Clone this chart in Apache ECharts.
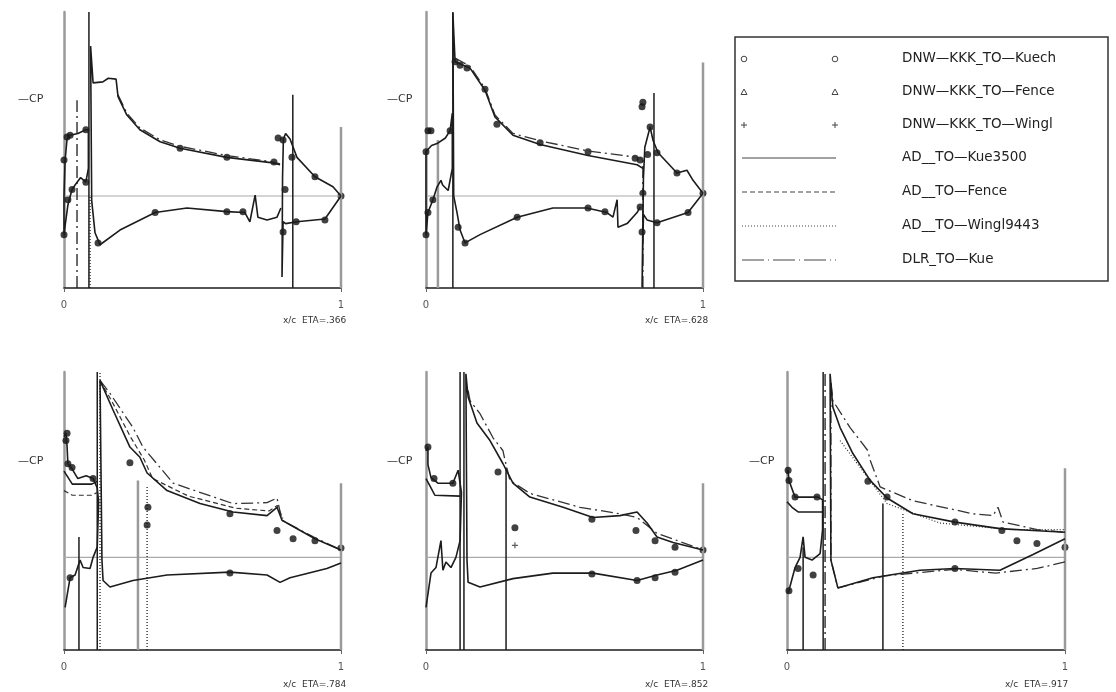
<!DOCTYPE html>
<html>
<head>
<meta charset="utf-8">
<script src="https://cdn.jsdelivr.net/npm/echarts@6/dist/echarts.min.js"></script>
<style>
  html, body { margin: 0; padding: 0; background: #fff; }
  #main { width: 1116px; height: 692px; }
</style>
</head>
<body>
<div id="main"></div>
<script>
// x/c, -Cp pairs
var etaLabels = ['x/c  ETA=.366', 'x/c  ETA=.628', 'x/c  ETA=.784', 'x/c  ETA=.852', 'x/c  ETA=.917'];
var legendNames = ['DNW\u2014KKK_TO\u2014Kuech', 'DNW\u2014KKK_TO\u2014Fence', 'DNW\u2014KKK_TO\u2014Wingl',
    'AD__TO\u2014Kue3500', 'AD__TO\u2014Fence', 'AD__TO\u2014Wingl9443', 'DLR_TO\u2014Kue'];

/* ETA=.366 */
var slat366 = [[0,-0.42],[0,0],[0.004,0.39],[0.011,0.62],[0.022,0.66],[0.05,0.68],[0.079,0.72],[0.088,0.72],[0.088,0.3],
    [0.079,0.15],[0.06,0.2],[0.04,0.12],[0.029,0.07],[0.02,-0.03],[0.014,-0.1],[0.005,-0.3],[0,-0.42]];
var main366 = [[0.783,-0.13],[0.769,-0.23],[0.733,-0.26],[0.70,-0.23],[0.69,0.01],[0.671,-0.28],[0.653,-0.18],[0.588,-0.17],
    [0.444,-0.13],[0.329,-0.18],[0.202,-0.37],[0.13,-0.53],[0.112,-0.40],[0.1,-0.05],[0.096,1.63],[0.105,1.23],[0.14,1.24],
    [0.16,1.28],[0.188,1.27],[0.195,1.08],[0.227,0.88],[0.274,0.72],[0.347,0.59],[0.419,0.52],[0.588,0.42],[0.755,0.36],[0.78,0.34]];
var flap366 = [[1,0],[0.942,-0.25],[0.841,-0.28],[0.80,-0.30],[0.791,-0.28],[0.787,-0.88],[0.789,0.2],[0.792,0.62],[0.80,0.68],
    [0.816,0.62],[0.841,0.42],[0.906,0.21],[0.971,0.10],[1,0]];
var dlr366 = [[0.195,1.1],[0.227,0.9],[0.274,0.74],[0.347,0.61],[0.419,0.54],[0.588,0.44],[0.755,0.37],[0.78,0.35]];
var exp366 = [[0.011,0.64],[0.022,0.66],[0,0.39],[0.079,0.72],[0.079,0.15],[0.029,0.07],[0.014,-0.04],[0,-0.42],
    [0.419,0.52],[0.588,0.42],[0.758,0.37],[0.773,0.63],[0.791,0.61],[0.798,0.07],[0.791,-0.39],[0.823,0.42],[0.906,0.21],
    [1,0],[0.123,-0.51],[0.329,-0.18],[0.588,-0.17],[0.646,-0.17],[0.838,-0.28],[0.942,-0.26]];
var vSolid366 = [[0.09,2],[0.826,1.10]];
var vGray366 = [[1,0.75]];
var vDashDot366 = [[0.047,1.04]];
var vDot366 = [[0.094,0]];

/* ETA=.628 */
var slat628 = [[0,-0.42],[0,0.1],[0,0.48],[0.02,0.55],[0.04,0.57],[0.07,0.63],[0.087,0.71],[0.095,0.9],[0.095,0.3],[0.08,0.06],
    [0.06,0.12],[0.054,0.17],[0.04,0.1],[0.025,-0.04],[0.007,-0.18],[0,-0.42]];
var main628 = [[0.773,-0.12],[0.762,-0.18],[0.726,-0.30],[0.693,-0.34],[0.69,-0.04],[0.675,-0.23],[0.653,-0.18],[0.581,-0.13],
    [0.458,-0.13],[0.329,-0.23],[0.195,-0.42],[0.141,-0.51],[0.123,-0.37],[0.112,-0.18],[0.1,0],[0.097,1.99],[0.105,1.46],
    [0.159,1.39],[0.213,1.15],[0.249,0.86],[0.314,0.66],[0.412,0.56],[0.585,0.44],[0.762,0.34],[0.783,0.30]];
var flap628 = [[1,0.03],[0.946,-0.18],[0.834,-0.29],[0.798,-0.26],[0.785,-0.2],[0.78,-0.99],[0.785,0.2],[0.79,0.53],[0.809,0.75],
    [0.82,0.6],[0.838,0.47],[0.906,0.25],[0.942,0.28],[0.964,0.17],[1,0.03]];
var dlr628 = [[0.105,1.5],[0.159,1.41],[0.213,1.17],[0.249,0.88],[0.314,0.68],[0.412,0.6],[0.585,0.49],[0.762,0.42],[0.783,0.4]];
var exp628 = [[0.018,0.71],[0.007,0.71],[0,0.48],[0.087,0.71],[0.025,-0.04],[0.007,-0.18],[0,-0.42],[0.105,1.46],[0.123,1.42],
    [0.148,1.39],[0.213,1.16],[0.256,0.78],[0.412,0.58],[0.585,0.48],[0.755,0.41],[0.773,0.39],[0.80,0.45],[0.809,0.75],
    [0.78,0.97],[0.783,1.02],[0.834,0.47],[0.906,0.25],[1,0.03],[0.116,-0.34],[0.141,-0.51],[0.329,-0.23],[0.585,-0.13],
    [0.646,-0.17],[0.773,-0.12],[0.783,0.03],[0.78,-0.39],[0.834,-0.29],[0.946,-0.18]];
var vSolid628 = [[0.097,2],[0.823,1.12]];
var vGray628 = [[0.043,0.61],[1,1.45]];
var vDashDot628 = [[0.783,0.4]];
var vDot628 = [];

/* ETA=.784 */
var slat784 = [[0.004,-0.54],[0.022,-0.22],[0.04,-0.19],[0.058,-0.03],[0.069,-0.11],[0.094,-0.12],[0.105,0],[0.12,0.11],
    [0.125,0.6],[0.12,0.75],[0.105,0.85],[0.08,0.88],[0.05,0.85],[0.03,0.95],[0.014,1.01],[0.011,1.2],[0.007,1.34],[0,1.3]];
var slatB784 = [[0,0.93],[0.03,0.79],[0.1,0.79],[0.12,0.82]];
var slatC784 = [[0,0.72],[0.03,0.67],[0.1,0.67],[0.12,0.7]];
var main784 = [[1,-0.06],[0.949,-0.12],[0.816,-0.22],[0.78,-0.27],[0.733,-0.19],[0.599,-0.16],[0.372,-0.19],[0.249,-0.25],
    [0.166,-0.32],[0.141,-0.25],[0.137,-0.03],[0.13,1.91],[0.177,1.59],[0.238,1.19],[0.274,1.08],[0.30,0.91],[0.372,0.72],
    [0.491,0.58],[0.61,0.49],[0.733,0.45],[0.769,0.54],[0.787,0.40],[0.906,0.2],[1,0.08]];
var dlr784 = [[0.13,1.91],[0.166,1.77],[0.249,1.40],[0.285,1.19],[0.394,0.80],[0.61,0.58],[0.733,0.59],[0.769,0.64],[0.787,0.40],
    [0.9,0.22],[1,0.08]];
var fence784 = [[0.13,1.9],[0.17,1.7],[0.24,1.3],[0.29,1.05],[0.32,0.85],[0.45,0.66],[0.62,0.53],[0.74,0.5],[0.77,0.56],[0.79,0.42]];
var exp784 = [[0.011,1.34],[0.007,1.26],[0.014,1.01],[0.029,0.97],[0.105,0.85],[0.238,1.02],[0.303,0.54],[0.30,0.35],
    [0.599,0.47],[0.769,0.29],[0.827,0.20],[0.906,0.18],[1,0.10],[0.022,-0.22],[0.599,-0.17]];
var vSolid784 = [[0.054,0.22],[0.12,2]];
var vGray784 = [[0.267,0.83],[1,0.8]];
var vDashDot784 = [];
var vDot784 = [[0.13,2],[0.30,0.76]];

/* ETA=.852 */
var slat852 = [[0,-0.54],[0.018,-0.17],[0.036,-0.11],[0.054,0.18],[0.061,-0.14],[0.072,-0.05],[0.09,-0.11],[0.108,0],
    [0.123,0.18],[0.128,0.7],[0.116,0.94],[0.097,0.80],[0.043,0.80],[0.018,0.86],[0.007,1.0],[0.007,1.19],[0,1.15]];
var slatB852 = [[0,0.85],[0.018,0.75],[0.032,0.67],[0.123,0.66]];
var main852 = [[1,-0.03],[0.906,-0.14],[0.834,-0.19],[0.762,-0.25],[0.603,-0.17],[0.458,-0.17],[0.314,-0.23],[0.195,-0.32],
    [0.152,-0.27],[0.148,-0.03],[0.144,1.98],[0.152,1.73],[0.184,1.45],[0.231,1.26],[0.278,1.01],[0.314,0.80],[0.375,0.65],
    [0.495,0.54],[0.603,0.43],[0.70,0.45],[0.762,0.49],[0.798,0.37],[0.834,0.22],[0.892,0.16],[1,0.08]];
var dlr852 = [[0.152,1.8],[0.159,1.69],[0.195,1.55],[0.242,1.29],[0.278,1.15],[0.285,1.05],[0.303,0.83],[0.375,0.69],
    [0.556,0.54],[0.70,0.47],[0.762,0.43],[0.834,0.26],[1,0.08]];
var exp852 = [[0.007,1.19],[0.029,0.85],[0.097,0.80],[0.26,0.92],[0.321,0.32],[0.599,0.41],[0.758,0.29],[0.827,0.18],
    [0.899,0.11],[1,0.08],[0.599,-0.18],[0.762,-0.25],[0.827,-0.22],[0.899,-0.16]];
var plus852 = [[0.321,0.13]];
var vSolid852 = [[0.123,2],[0.137,2],[0.289,0.97]];
var vGray852 = [[1,0.8]];
var vDashDot852 = [];
var vDot852 = [];

/* ETA=.917 */
var slat917 = [[0.004,-0.39],[0.029,-0.11],[0.047,0],[0.058,0.22],[0.065,0],[0.09,-0.03],[0.119,0.04],[0.128,0.3],[0.128,0.62],
    [0.112,0.65],[0.029,0.65],[0.007,0.83],[0.004,0.94],[0,0.9]];
var slatB917 = [[0,0.6],[0.018,0.54],[0.04,0.49],[0.126,0.49]];
var main917 = [[1,0.2],[0.885,0.03],[0.766,-0.14],[0.604,-0.12],[0.478,-0.14],[0.309,-0.22],[0.183,-0.33],[0.158,-0.03],
    [0.155,1.98],[0.165,1.62],[0.191,1.40],[0.237,1.12],[0.299,0.83],[0.36,0.64],[0.453,0.47],[0.604,0.38],[0.766,0.31],
    [0.885,0.29],[1,0.27]];
var dlr917 = [[1,-0.05],[0.9,-0.12],[0.75,-0.17],[0.6,-0.13],[0.35,-0.2],[0.183,-0.33],[0.158,-0.03],[0.158,1.9],[0.165,1.69],
    [0.227,1.40],[0.263,1.26],[0.291,1.15],[0.299,1.05],[0.335,0.76],[0.453,0.61],[0.669,0.47],[0.741,0.45],[0.759,0.54],
    [0.777,0.38],[0.9,0.3],[1,0.27]];
var wingl917 = [[0.191,1.26],[0.36,0.58],[0.55,0.37],[0.8,0.3],[1,0.3]];
var exp917 = [[0.004,0.94],[0.007,0.83],[0.029,0.65],[0.108,0.65],[0.094,-0.19],[0.04,-0.12],[0.007,-0.36],[0.291,0.82],
    [0.36,0.65],[0.604,0.38],[0.773,0.29],[0.827,0.18],[0.899,0.15],[1,0.11],[0.604,-0.12]];
var vSolid917 = [[0.058,0.11],[0.13,2],[0.345,0.58]];
var vGray917 = [[1,0.96]];
var vDashDot917 = [[0.137,2]];
var vDot917 = [[0.417,0.47]];

var ink = '#1c1c1c';
var grey = '#9a9a9a';
var dashDot = [12, 4, 2, 4];
var dashed = [5, 3];
var dotted = [1, 2];

var panels = [
    { solid: [slat366, main366, flap366], dlr: [dlr366], dash: [], dot: [], exp: exp366, plus: [],
      vs: vSolid366, vg: vGray366, vdd: vDashDot366, vd: vDot366 },
    { solid: [slat628, main628, flap628], dlr: [dlr628], dash: [], dot: [], exp: exp628, plus: [],
      vs: vSolid628, vg: vGray628, vdd: vDashDot628, vd: vDot628 },
    { solid: [slat784, slatB784, main784], dlr: [dlr784], dash: [slatC784, fence784], dot: [], exp: exp784, plus: [],
      vs: vSolid784, vg: vGray784, vdd: vDashDot784, vd: vDot784 },
    { solid: [slat852, slatB852, main852], dlr: [dlr852], dash: [], dot: [], exp: exp852, plus: plus852,
      vs: vSolid852, vg: vGray852, vdd: vDashDot852, vd: vDot852 },
    { solid: [slat917, slatB917, main917], dlr: [dlr917], dash: [], dot: [wingl917], exp: exp917, plus: [],
      vs: vSolid917, vg: vGray917, vdd: vDashDot917, vd: vDot917 }
];
var grids = [
    { left: 64, top: 12, width: 277, height: 276 },
    { left: 426, top: 12, width: 277, height: 276 },
    { left: 64, top: 372, width: 277, height: 278 },
    { left: 426, top: 372, width: 277, height: 278 },
    { left: 787, top: 372, width: 278, height: 278 }
];

var chart = echarts.init(document.getElementById('main'));
var xAxes = [], yAxes = [], series = [];

function lineSeries(gi, data, type, color, width) {
    return {
        type: 'line', xAxisIndex: gi, yAxisIndex: gi, data: data, symbol: 'none', silent: true,
        animation: false, lineStyle: { color: color, width: width, type: type }
    };
}

for (var i = 0; i < panels.length; i++) {
    var p = panels[i];
    xAxes.push({
        gridIndex: i, type: 'value', min: 0, max: 1, interval: 1,
        axisLine: { onZero: false, lineStyle: { color: ink, width: 1.5 } },
        axisTick: { show: true, length: 4, lineStyle: { color: '#666' } },
        axisLabel: { color: '#555', fontSize: 10, margin: 12, fontFamily: 'DejaVu Sans' },
        splitLine: { show: false }
    });
    yAxes.push({
        gridIndex: i, type: 'value', min: -1, max: 2,
        axisLine: { show: true, onZero: false, lineStyle: { color: grey, width: 2.5 } },
        axisTick: { show: false }, axisLabel: { show: false }, splitLine: { show: false }
    });
    series.push(lineSeries(i, [[0, 0], [1, 0]], 'solid', '#aaaaaa', 1.2));
    p.vg.forEach(function(v) { series.push(lineSeries(i, [[v[0], -1], [v[0], v[1]]], 'solid', grey, 2.5)); });
    p.vs.forEach(function(v) { series.push(lineSeries(i, [[v[0], -1], [v[0], v[1]]], 'solid', ink, 1.5)); });
    p.vdd.forEach(function(v) { series.push(lineSeries(i, [[v[0], -1], [v[0], v[1]]], dashDot, ink, 1.3)); });
    p.vd.forEach(function(v) { series.push(lineSeries(i, [[v[0], -1], [v[0], v[1]]], dotted, ink, 1.3)); });
    p.dot.forEach(function(d) { series.push(lineSeries(i, d, dotted, '#333', 1.2)); });
    p.dash.forEach(function(d) { series.push(lineSeries(i, d, dashed, '#333', 1.2)); });
    p.dlr.forEach(function(d) { series.push(lineSeries(i, d, dashDot, '#333', 1.3)); });
    p.solid.forEach(function(d) { series.push(lineSeries(i, d, 'solid', ink, 1.6)); });
    series.push({
        type: 'scatter', xAxisIndex: i, yAxisIndex: i, data: p.exp, symbol: 'circle', symbolSize: 7,
        silent: true, animation: false, itemStyle: { color: '#111' }
    });
    if (p.plus.length) {
        series.push({
            type: 'scatter', xAxisIndex: i, yAxisIndex: i, data: p.plus, silent: true, animation: false,
            symbol: 'path://M4,0L6,0L6,4L10,4L10,6L6,6L6,10L4,10L4,6L0,6L0,4L4,4Z', symbolSize: 6,
            itemStyle: { color: '#333' }
        });
    }
}

// axis captions
var graphic = [];
var cpPos = [[18, 94], [387, 94], [18, 456], [387, 456], [749, 456]];
var etaPos = [[283, 316], [645, 316], [283, 680], [645, 680], [1005, 680]];
for (var k = 0; k < 5; k++) {
    graphic.push({ type: 'text', left: cpPos[k][0], top: cpPos[k][1],
        style: { text: '\u2014CP', fill: '#333', font: '11px "DejaVu Sans"' } });
    graphic.push({ type: 'text', left: etaPos[k][0], top: etaPos[k][1],
        style: { text: etaLabels[k], fill: '#333', font: '9px "DejaVu Sans"' } });
}

// legend box
graphic.push({ type: 'rect', shape: { x: 735, y: 37, width: 373, height: 244 },
    style: { fill: '#fff', stroke: '#333', lineWidth: 1.5 } });
var rowY = [59, 92, 125, 158, 192, 226, 260];
var symKinds = ['circle', 'triangle', 'plus'];
for (var r = 0; r < rowY.length; r++) {
    graphic.push({ type: 'text', left: 902, top: rowY[r] - 8,
        style: { text: legendNames[r], fill: '#222', font: '13.5px "DejaVu Sans"' } });
    if (r < 3) {
        [744, 835].forEach(function(cx) {
            if (symKinds[r] === 'circle') {
                graphic.push({ type: 'circle', shape: { cx: cx, cy: rowY[r], r: 2.8 },
                    style: { fill: 'none', stroke: '#444', lineWidth: 1 } });
            } else if (symKinds[r] === 'triangle') {
                graphic.push({ type: 'polygon', shape: { points: [[cx, rowY[r] - 3], [cx - 3, rowY[r] + 2.5], [cx + 3, rowY[r] + 2.5]] },
                    style: { fill: 'none', stroke: '#444', lineWidth: 1 } });
            } else {
                graphic.push({ type: 'polyline', shape: { points: [[cx - 3, rowY[r]], [cx + 3, rowY[r]]] }, style: { stroke: '#444', lineWidth: 1 } });
                graphic.push({ type: 'polyline', shape: { points: [[cx, rowY[r] - 3], [cx, rowY[r] + 3]] }, style: { stroke: '#444', lineWidth: 1 } });
            }
        });
    } else {
        var ls = [null, null, null, 'solid', dashed, dotted, [22, 4, 1, 4]][r];
        graphic.push({ type: 'polyline', shape: { points: [[742, rowY[r]], [836, rowY[r]]] },
            style: { stroke: '#444', lineWidth: 1, lineDash: ls === 'solid' ? null : ls } });
    }
}

chart.setOption({
    animation: false,
    backgroundColor: '#fff',
    grid: grids,
    xAxis: xAxes,
    yAxis: yAxes,
    series: series,
    graphic: graphic
});
</script>
</body>
</html>
